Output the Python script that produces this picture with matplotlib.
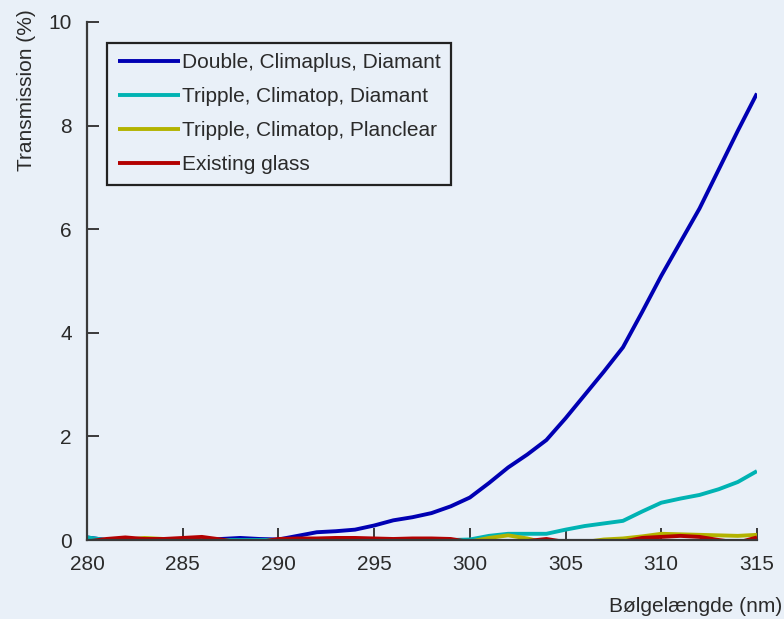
import matplotlib
matplotlib.use("Agg")
import matplotlib.pyplot as plt

plt.rcParams['font.family'] = ['Liberation Sans', 'DejaVu Sans']

wavelength = list(range(280, 316))

double_climaplus_diamant = [
    0.05, 0.00, -0.02, 0.00, -0.02, -0.02, 0.00, 0.02, 0.04, 0.02,
    0.01, 0.08, 0.15, 0.17, 0.20, 0.28, 0.38, 0.44, 0.52, 0.65,
    0.82, 1.10, 1.40, 1.65, 1.93, 2.35, 2.80, 3.25, 3.72, 4.40,
    5.10, 5.75, 6.40, 7.15, 7.90, 8.62,
]
tripple_climatop_diamant = [
    0.05, 0.00, 0.00, 0.00, 0.00, 0.00, 0.00, 0.00, 0.00, 0.00,
    0.00, 0.00, 0.00, 0.00, 0.00, 0.00, 0.00, 0.00, 0.00, 0.00,
    0.01, 0.08, 0.12, 0.12, 0.12, 0.20, 0.27, 0.32, 0.37, 0.55,
    0.72, 0.80, 0.87, 0.98, 1.12, 1.33,
]
tripple_climatop_planclear = [
    -0.05, -0.04, 0.00, 0.04, 0.02, -0.03, -0.05, -0.05, -0.04, -0.03,
    0.00, -0.03, 0.00, 0.01, 0.00, 0.00, -0.04, -0.05, -0.05, -0.05,
    -0.03, 0.04, 0.09, 0.03, -0.06, -0.06, -0.04, 0.01, 0.03, 0.07,
    0.12, 0.11, 0.10, 0.09, 0.08, 0.10,
]
existing_glass = [
    -0.03, 0.02, 0.05, 0.02, 0.02, 0.04, 0.06, 0.01, -0.05, -0.04,
    0.02, 0.03, 0.03, 0.04, 0.04, 0.03, 0.02, 0.03, 0.03, 0.02,
    -0.04, -0.06, -0.05, -0.02, 0.02, -0.04, -0.06, -0.05, -0.03, 0.04,
    0.06, 0.08, 0.06, 0.00, -0.05, 0.05,
]

series = [
    ("Double, Climaplus, Diamant", double_climaplus_diamant, (0.0, 0.0, 0.70)),
    ("Tripple, Climatop, Diamant", tripple_climatop_diamant, (0.0, 0.70, 0.70)),
    ("Tripple, Climatop, Planclear", tripple_climatop_planclear, (0.70, 0.70, 0.0)),
    ("Existing glass", existing_glass, (0.70, 0.0, 0.0)),
]

x_ticks = [280, 285, 290, 295, 300, 305, 310, 315]
y_ticks = [0, 2, 4, 6, 8, 10]

bg = "#e9f0f8"
axis_col = "#3a3a3a"
text_col = "#2a2a2a"
fs = 15

fig = plt.figure(figsize=(7.84, 6.19), dpi=100, facecolor=bg)
ax = fig.add_axes([0.111, 0.1276, 0.8545, 0.8369], facecolor=bg)

for label, vals, col in series:
    ax.plot(wavelength, vals, color=col, lw=2.8, label=label,
            solid_capstyle="butt")

ax.set_xlim(280, 315)
ax.set_ylim(0, 10)
ax.set_xticks(x_ticks)
ax.set_yticks(y_ticks)
ax.set_xticklabels([str(t) for t in x_ticks])
ax.set_yticklabels([str(t) for t in y_ticks])

for side in ("top", "right"):
    ax.spines[side].set_visible(False)
for side in ("left", "bottom"):
    ax.spines[side].set_color(axis_col)
    ax.spines[side].set_linewidth(1.6)

ax.tick_params(axis="both", direction="in", length=8.5, width=1.4,
               color=axis_col, labelsize=fs, labelcolor=text_col)
ax.tick_params(axis="x", pad=11)
ax.tick_params(axis="y", pad=11)

leg = ax.legend(loc="upper left", bbox_to_anchor=(0.03, 0.96),
                borderaxespad=0, fontsize=fs, handlelength=3.0,
                handletextpad=0.1, labelspacing=0.72, borderpad=0.5,
                fancybox=False, frameon=True, facecolor=bg,
                edgecolor="#222222", framealpha=1.0)
leg.get_frame().set_linewidth(1.6)
for t in leg.get_texts():
    t.set_color(text_col)

fig.text(0.034, 0.985, "Transmission (%)", rotation=90, ha="center",
         va="top", fontsize=fs, color=text_col)
fig.text(0.998, 0.02, "Bølgelængde (nm)", ha="right", va="center",
         fontsize=fs, color=text_col)

fig.savefig("out.png", dpi=100, facecolor=bg)
